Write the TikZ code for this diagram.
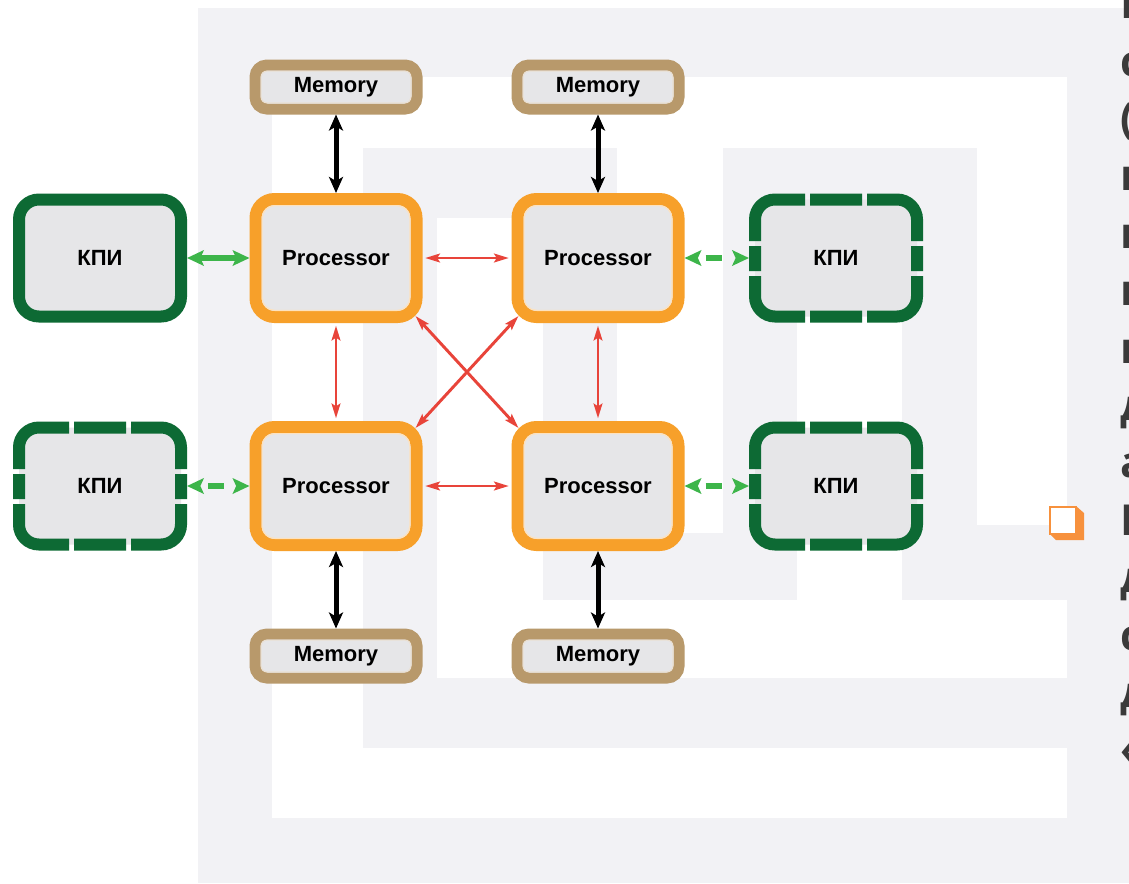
\documentclass[tikz,border=0pt]{standalone}
\usepackage{fontspec}
\setmainfont{Liberation Sans}
\newfontfamily\sidefont{Open Sans}
\usetikzlibrary{arrows.meta}
\definecolor{bggray}{HTML}{F2F2F5}
\definecolor{procor}{HTML}{F7A02A}
\definecolor{memtan}{HTML}{B8996B}
\definecolor{kpigreen}{HTML}{0D6A34}
\definecolor{boxfill}{HTML}{E6E6E8}
\definecolor{arrgreen}{HTML}{3DB54A}
\definecolor{arrred}{HTML}{E8443A}
\definecolor{txtgray}{HTML}{3A3A3A}
\definecolor{bulletor}{HTML}{F7913D}
\newcommand\gapclip[2]{\clip
 (#1-100,#2-80) rectangle (#1-31,#2-17)
 (#1-26,#2-80) rectangle (#1+26,#2-17)
 (#1+31,#2-80) rectangle (#1+100,#2-17)
 (#1-100,#2-12) rectangle (#1-31,#2+13)
 (#1-26,#2-12) rectangle (#1+26,#2+13)
 (#1+31,#2-12) rectangle (#1+100,#2+13)
 (#1-100,#2+18) rectangle (#1-31,#2+80)
 (#1-26,#2+18) rectangle (#1+26,#2+80)
 (#1+31,#2+18) rectangle (#1+100,#2+80);}
\tikzset{
  lbl/.style={font=\bfseries\fontsize{16.5}{18}\selectfont, text=black},
  proc/.style={lbl, draw=procor, line width=9pt, fill=boxfill, rounded corners=14.25pt,
    minimum width=120.75pt, minimum height=88.5pt, inner sep=0pt},
  mem/.style={lbl, draw=memtan, line width=8.25pt, fill=boxfill, rounded corners=9pt,
    minimum width=121.5pt, minimum height=33pt, inner sep=0pt},
  kpi/.style={lbl, draw=kpigreen, line width=9pt, fill=boxfill, rounded corners=15pt,
    minimum width=121.5pt, minimum height=87.75pt, inner sep=0pt},
  kpidash/.style={lbl, fill=boxfill, rounded corners=15pt, outer sep=4.5pt,
    minimum width=121.5pt, minimum height=87.75pt, inner sep=0pt},
  kpiline/.style={draw=kpigreen, line width=9pt, rounded corners=15pt},
  innerline/.style={line width=0.9pt},
  blkarr/.style={draw=black, line width=3.75pt,
    {Stealth[length=12pt,width=10.5pt,inset=3pt]}-{Stealth[length=12pt,width=10.5pt,inset=3pt]}},
  redarr/.style={draw=arrred, line width=2.2pt,
    {Stealth[length=11pt,width=6.5pt,inset=2pt]}-{Stealth[length=11pt,width=6.5pt,inset=2pt]}},
  grnarr/.style={draw=arrgreen, line width=3.9pt,
    {Stealth[length=12.5pt,width=11.5pt,inset=2.5pt]}-{Stealth[length=12.5pt,width=11.5pt,inset=2.5pt]}},
  grndash/.style={grnarr, dash pattern=on 0pt off 6.5pt on 12pt off 40pt},
  sidetxt/.style={anchor=base west, inner sep=0pt, text=txtgray,
    font=\sidefont\bfseries\fontsize{32}{32}\selectfont}
}
\begin{document}
\begin{tikzpicture}[x=0.75pt,y=-0.75pt]
\useasboundingbox (0,0) rectangle (1129,883);
\clip (0,0) rectangle (1129,883);
% background meander
\fill[white] (0,0) rectangle (1129,883);
\fill[bggray] (198,8) rectangle (1129,883);
\fill[white] (272,77) rectangle (1067,148);
\fill[white] (272,77) rectangle (363,818);
\fill[white] (272,748) rectangle (1067,818);
\fill[white] (977,77) rectangle (1067,525);
\fill[white] (617,148) rectangle (723,533);
\fill[white] (437,218) rectangle (543,678);
\fill[white] (437,600) rectangle (1067,678);
\fill[white] (797,218) rectangle (902,600);

% side text (cut by the picture edge, as in the reference)
\node[sidetxt] (s1) at (1120,18.6) {П};
\node[sidetxt] (s2) at (1120,76) {с};
\node[sidetxt] (s3) at (1120,133.4) {(};
\node[sidetxt] (s4) at (1120,190.8) {п};
\node[sidetxt] (s5) at (1120,248.2) {п};
\node[sidetxt] (s6) at (1120,305.6) {п};
\node[sidetxt] (s7) at (1120,363) {п};
\node[sidetxt] (s8) at (1120,420.4) {д};
\node[sidetxt] (s9) at (1120,477.8) {а};
\node[sidetxt] (s10) at (1120,535.2) {П};
\node[sidetxt] (s11) at (1120,592.6) {д};
\node[sidetxt] (s12) at (1120,650) {с};
\node[sidetxt] (s13) at (1120,707.4) {д};
\node[sidetxt] (s14) at (1120,764.8) {«};
% bullet
\fill[white] (1050,507) rectangle (1076,534);
\fill[bulletor] (1076,506) -- (1084,513) -- (1084,540) -- (1056,540) -- (1050,534) -- (1076,534) -- cycle;
\draw[bulletor, line width=1.8pt] (1050,507) rectangle (1076,534);

% nodes
\node[mem] (m1) at (336,87) {Memory};
\node[mem] (m2) at (598,87) {Memory};
\node[mem] (m3) at (336,656) {Memory};
\node[mem] (m4) at (598,656) {Memory};
\node[proc] (p1) at (336,258) {Processor};
\node[proc] (p2) at (598,258) {Processor};
\node[proc] (p3) at (336,486) {Processor};
\node[proc] (p4) at (598,486) {Processor};
\node[kpi] (k1) at (100,258) {КПИ};
\node[kpidash] (k2) at (836,258) {КПИ};
\node[kpidash] (k3) at (100,486) {КПИ};
\node[kpidash] (k4) at (836,486) {КПИ};

% dashed KPI borders
\begin{scope}\gapclip{836}{258}
  \draw[kpiline] ([shift={(6,6)}]k2.north west) rectangle ([shift={(-6,-6)}]k2.south east);
\end{scope}
\begin{scope}\gapclip{100}{486}
  \draw[kpiline] ([shift={(6,6)}]k3.north west) rectangle ([shift={(-6,-6)}]k3.south east);
\end{scope}
\begin{scope}\gapclip{836}{486}
  \draw[kpiline] ([shift={(6,6)}]k4.north west) rectangle ([shift={(-6,-6)}]k4.south east);
\end{scope}

% inner light edges
\foreach \n in {p1,p2,p3,p4}
  \draw[innerline, draw=procor!30!white, rounded corners=9.5pt]
    ([shift={(12.6,12.6)}]\n.north west) rectangle ([shift={(-12.6,-12.6)}]\n.south east);
\foreach \n in {m1,m2,m3,m4}
  \draw[innerline, draw=memtan!30!white, rounded corners=4.5pt]
    ([shift={(11.6,11.6)}]\n.north west) rectangle ([shift={(-11.6,-11.6)}]\n.south east);

% memory links
\draw[blkarr] (m1.south) -- (p1.north);
\draw[blkarr] (m2.south) -- (p2.north);
\draw[blkarr] (p3.south) -- (m3.north);
\draw[blkarr] (p4.south) -- (m4.north);

% processor links
\draw[redarr, shorten <=2pt, shorten >=2pt] (p1.east) -- (p2.west);
\draw[redarr, shorten <=2pt, shorten >=2pt] (p3.east) -- (p4.west);
\draw[redarr, shorten <=2pt, shorten >=2pt] (p1.south) -- (p3.north);
\draw[redarr, shorten <=2pt, shorten >=2pt] (p2.south) -- (p4.north);
\draw[redarr] ([shift={(-7,-7)}]p1.south east) -- ([shift={(7,7)}]p4.north west);
\draw[redarr] ([shift={(7,-7)}]p2.south west) -- ([shift={(-7,7)}]p3.north east);

% KPI links
\draw[grnarr] (k1.east) -- (p1.west);
\draw[grndash] (k3.east) -- (p3.west);
\draw[grndash] (p2.east) -- (k2.west);
\draw[grndash] (p4.east) -- (k4.west);
\end{tikzpicture}
\end{document}
